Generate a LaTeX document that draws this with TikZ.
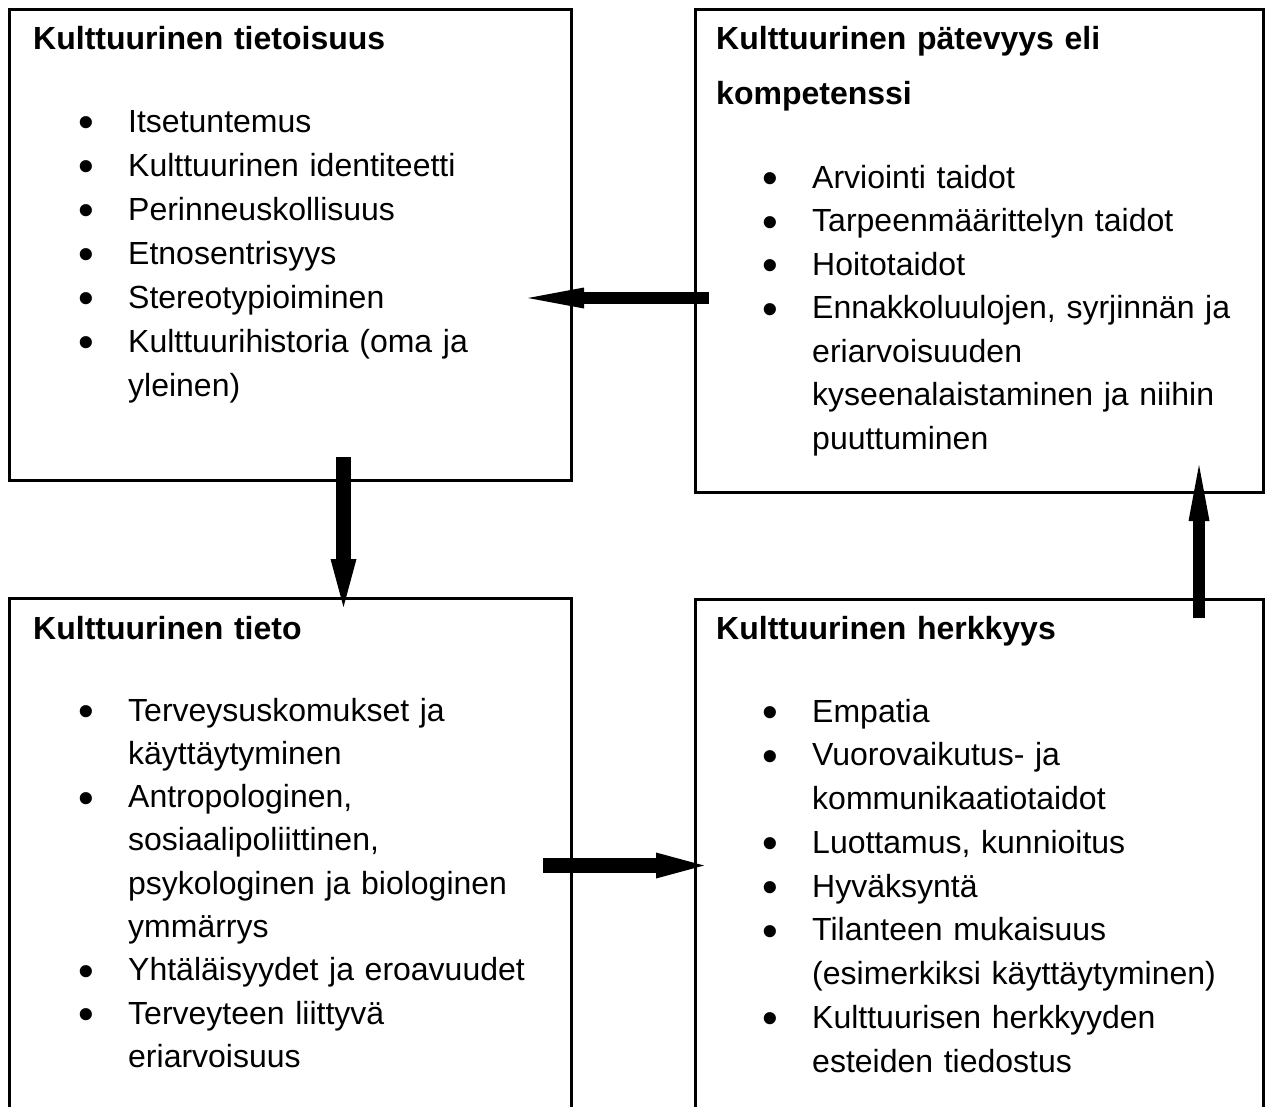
\documentclass[tikz,border=0pt]{standalone}
\usepackage{fontspec}
\setmainfont{Liberation Sans}
\usetikzlibrary{arrows.meta}

% list marker, hung 42pt left of the text
\newcommand{\bul}{\leavevmode\llap{\makebox[0pt][c]{\raisebox{-5.5pt}{\scalebox{1.4}{\textbullet}}}\hspace{42pt}}}

\begin{document}
\begin{tikzpicture}[x=1pt,y=1pt,yscale=-1,xscale=1,
  box/.style={draw, line width=3pt, inner sep=0pt, anchor=north west},
  title/.style={anchor=base west, inner sep=0pt, text width=520pt, align=left, font=\fontsize{32}{55}\selectfont\bfseries},
  items/.style={anchor=base west, inner sep=0pt, text width=440pt, align=left, font=\fontsize{32}{#1}\selectfont},
  items/.default=44,
  flow/.style={line width=15pt, -{Triangle[length=48pt,width=26pt,line width=0pt]}},
  thinflow/.style={line width=12pt, -{Triangle[length=56pt,width=21pt,line width=0pt]}}]

\useasboundingbox (0,0) rectangle (1265,1106);
\clip (0,0) rectangle (1265,1106);

% Boxes
\node (tietoisuus) [box, minimum width=562pt, minimum height=471pt] at (8,8) {};
\node (patevyys) [box, minimum width=568pt, minimum height=483pt] at (694,8) {};
\node (tieto) [box, minimum width=562pt, minimum height=560pt] at (8,597) {};
\node (herkkyys) [box, minimum width=568pt, minimum height=560pt] at (694,598) {};

% Text Node
\node (tietoisuus-t) [title] at (33,49) {Kulttuurinen tietoisuus};
% Text Node
\node (tietoisuus-l) [items] at (128,132) {\bul Itsetuntemus\\ \bul Kulttuurinen identiteetti\\ \bul Perinneuskollisuus\\ \bul Etnosentrisyys\\ \bul Stereotypioiminen\\ \bul Kulttuurihistoria (oma ja\\ yleinen)};

% Text Node
\node (patevyys-t) [title] at (716,49) {Kulttuurinen pätevyys eli\\ kompetenssi};
% Text Node
\node (patevyys-l) [items=43.5] at (812,188) {\bul Arviointi taidot\\ \bul Tarpeenmäärittelyn taidot\\ \bul Hoitotaidot\\ \bul Ennakkoluulojen, syrjinnän ja\\ eriarvoisuuden\\ kyseenalaistaminen ja niihin\\ puuttuminen};

% Text Node
\node (tieto-t) [title] at (33,639) {Kulttuurinen tieto};
% Text Node
\node (tieto-l) [items=43.3] at (128,721) {\bul Terveysuskomukset ja\\ käyttäytyminen\\ \bul Antropologinen,\\ sosiaalipoliittinen,\\ psykologinen ja biologinen\\ ymmärrys\\ \bul Yhtäläisyydet ja eroavuudet\\ \bul Terveyteen liittyvä\\ eriarvoisuus};

% Text Node
\node (herkkyys-t) [title] at (716,639) {Kulttuurinen herkkyys};
% Text Node
\node (herkkyys-l) [items=43.75] at (812,722) {\bul Empatia\\ \bul Vuorovaikutus- ja\\ kommunikaatiotaidot\\ \bul Luottamus, kunnioitus\\ \bul Hyväksyntä\\ \bul Tilanteen mukaisuus\\ (esimerkiksi käyttäytyminen)\\ \bul Kulttuurisen herkkyyden\\ esteiden tiedostus};

% Arrow ends
\coordinate (tietoisuus-out) at (343.5,457);
\coordinate (tieto-in) at (343.5,607);
\coordinate (tieto-out) at (543,865.5);
\coordinate (herkkyys-in) at (704,865.5);
\coordinate (herkkyys-out) at (1199,618);
\coordinate (patevyys-in) at (1199,465);
\coordinate (patevyys-out) at (709,298);
\coordinate (tietoisuus-in) at (528,298);

% Arrows
\draw [flow] (tietoisuus-out) -- (tieto-in);
\draw [flow] (tieto-out) -- (herkkyys-in);
\draw [thinflow] (herkkyys-out) -- (patevyys-in);
\draw [thinflow] (patevyys-out) -- (tietoisuus-in);

\end{tikzpicture}
\end{document}
